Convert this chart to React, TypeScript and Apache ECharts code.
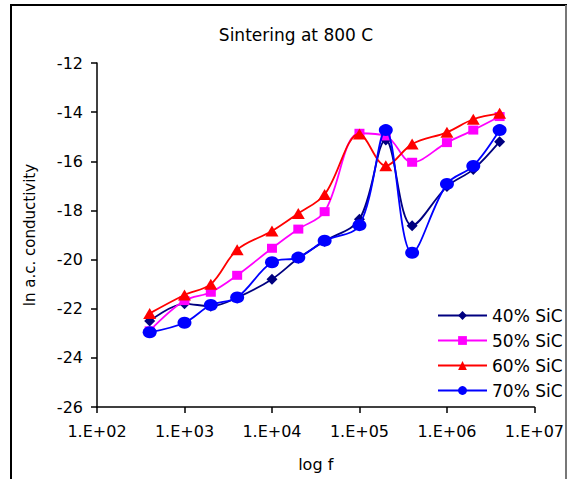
import React, { useEffect, useRef } from "react";
import * as echarts from "echarts";

const freqs = [400, 1000, 2000, 4000, 10000, 20000, 40000, 100000, 200000, 400000, 1000000, 2000000, 4000000];
const sic40 = [-22.5, -21.8, -21.9, -21.55, -20.8, -19.95, -19.25, -18.36, -15.13, -18.62, -17.03, -16.33, -15.2];
const sic50 = [-22.9, -21.67, -21.33, -20.64, -19.54, -18.76, -18.05, -14.86, -14.97, -16.04, -15.24, -14.73, -14.18];
const sic60 = [-22.19, -21.44, -21.0, -19.6, -18.84, -18.12, -17.35, -14.89, -16.18, -15.3, -14.82, -14.29, -14.05];
const sic70 = [-22.96, -22.57, -21.85, -21.54, -20.11, -19.92, -19.23, -18.6, -14.73, -19.72, -16.92, -16.19, -14.73];
const seriesNames = ["40% SiC", "50% SiC", "60% SiC", "70% SiC"];
const titleText = "Sintering at 800 C";
const xName = "log f";
const yName = "ln a.c. conductivity";

const FONT = "DejaVu Sans";

export default function App() {
  const ref = useRef<HTMLDivElement>(null);
  useEffect(() => {
    if (!ref.current) return;
    const chart = echarts.init(ref.current, null, { renderer: "svg" });
    const mk = (vals: number[]) => freqs.map((f, i) => [f, vals[i]]);
    const styles = [
      { color: "#000080", symbol: "diamond", size: [11, 11] },
      { color: "#FF00FF", symbol: "rect", size: [10, 9] },
      { color: "#FF0000", symbol: "triangle", size: [13, 11] },
      { color: "#0000FF", symbol: "circle", size: [14, 12] },
    ];
    const allVals = [sic40, sic50, sic60, sic70];
    chart.setOption({
      animation: false,
      backgroundColor: "#ffffff",
      title: {
        text: titleText,
        left: 291,
        top: 21,
        textAlign: "center",
        textStyle: { fontFamily: FONT, fontSize: 17, fontWeight: "normal", color: "#000" },
      },
      legend: {
        orient: "vertical",
        left: 432,
        top: 302,
        itemWidth: 49,
        itemHeight: 11,
        itemGap: 8,
        data: seriesNames,
        textStyle: { fontFamily: FONT, fontSize: 17, color: "#000", lineHeight: 14 },
      },
      grid: { left: 97, right: 31, top: 63, bottom: 72 },
      xAxis: {
        type: "log",
        logBase: 10,
        min: 100,
        max: 10000000,
        name: xName,
        nameLocation: "middle",
        nameGap: 49,
        nameTextStyle: { fontFamily: FONT, fontSize: 16, color: "#000" },
        axisLine: { lineStyle: { color: "#000", width: 1.5 } },
        axisTick: { show: true, length: 6, lineStyle: { color: "#000", width: 1.5 } },
        minorTick: { show: false },
        splitLine: { show: false },
        axisLabel: {
          fontFamily: FONT,
          fontSize: 16,
          color: "#000",
          margin: 16,
          formatter: (v: number) => {
            const e = Math.round(Math.log10(v));
            return "1.E+" + (e < 10 ? "0" : "") + e;
          },
        },
      },
      yAxis: {
        type: "value",
        min: -26,
        max: -12,
        interval: 2,
        name: yName,
        nameLocation: "middle",
        nameGap: 60,
        nameTextStyle: { fontFamily: FONT, fontSize: 15, color: "#000" },
        axisLine: { show: true, lineStyle: { color: "#000", width: 1.5 } },
        axisTick: { show: true, length: 6, lineStyle: { color: "#000", width: 1.5 } },
        splitLine: { show: false },
        axisLabel: { fontFamily: FONT, fontSize: 16, color: "#000", margin: 14 },
      },
      series: allVals.map((vals, i) => ({
        name: seriesNames[i],
        type: "line",
        data: mk(vals),
        smooth: 0.35,
        symbol: styles[i].symbol,
        symbolSize: styles[i].size,
        showAllSymbol: true,
        itemStyle: { color: styles[i].color },
        lineStyle: { color: styles[i].color, width: 1.8 },
        z: 2 + i,
      })),
      graphic: [
        { type: "line", shape: { x1: 11, y1: 5, x2: 11, y2: 479 }, style: { stroke: "#000", lineWidth: 2 } },
        { type: "line", shape: { x1: 10, y1: 5, x2: 567, y2: 5 }, style: { stroke: "#000", lineWidth: 2 } },
        { type: "line", shape: { x1: 566, y1: 5, x2: 566, y2: 479 }, style: { stroke: "#777", lineWidth: 2 } },
      ],
    });
    return () => chart.dispose();
  }, []);
  return (
    <div
      ref={ref}
      style={{ position: "fixed", left: 0, top: 0, width: 567, height: 479, background: "#fff" }}
    />
  );
}
